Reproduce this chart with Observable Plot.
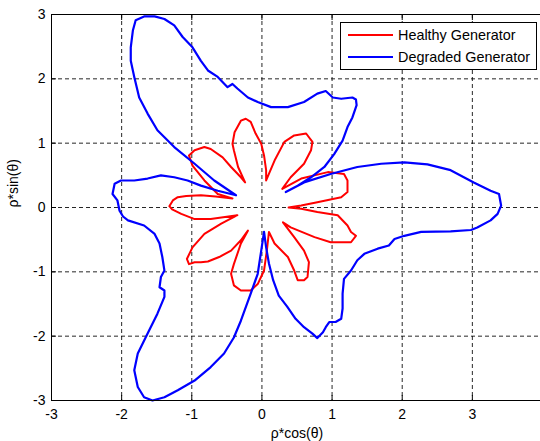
<!DOCTYPE html>
<html>
<head>
<meta charset="utf-8">
<script src="https://cdn.jsdelivr.net/npm/d3@7"></script>
<script src="https://cdn.jsdelivr.net/npm/@observablehq/plot@0.6"></script>
<style>
  body { margin: 0; background: #fff; }
  #wrap { position: relative; width: 540px; height: 441px; overflow: hidden; background: #fff;
          font-family: "Liberation Sans", Arial, Helvetica, sans-serif; }
  #legend { position: absolute; left: 340px; top: 22px; width: 195px; height: 46px;
            border: 1px solid #000; background: #fff; font-size: 14.4px; color: #000; }
  .sw { position: absolute; left: 7px; width: 45px; height: 2px; }
  .lab { position: absolute; left: 57px; height: 16px; line-height: 16px; white-space: nowrap; }
</style>
</head>
<body>
<div id="wrap"></div>
<script>
// ---- data ----
const seriesNames = ["Healthy Generator", "Degraded Generator"];
const seriesColors = ["#ff0000", "#0000ff"];
const xTicks = [-3, -2, -1, 0, 1, 2, 3, 4];
const xTickLabels = ["-3", "-2", "-1", "0", "1", "2", "3", ""];
const yTicks = [-3, -2, -1, 0, 1, 2, 3];
const yTickLabels = ["-3", "-2", "-1", "0", "1", "2", "3"];
const xLabel = "ρ*cos(θ)";
const yLabel = "ρ*sin(θ)";

const healthyX = [
  0.38,0.56,0.79,1.13,1.22,1.22,1.17,0.94,0.56,0.29,
  0.41,0.60,0.70,0.72,0.63,0.46,0.32,0.18,0.06,
  0.06,0.03,-0.01,-0.09,-0.16,-0.23,-0.30,-0.39,-0.42,-0.40,-0.34,-0.24,
  -0.30,-0.44,-0.56,-0.73,-0.82,-0.96,-1.04,-0.99,-0.82,-0.63,-0.42,
  -0.66,-0.87,-1.08,-1.20,-1.27,-1.32,-1.28,-1.15,-0.96,-0.73,-0.35,
  -0.58,-0.82,-0.99,-1.07,-1.04,-0.96,-0.87,-0.77,-0.61,-0.44,-0.30,-0.20,
  -0.30,-0.40,-0.44,-0.40,-0.30,-0.16,-0.06,0.03,0.07,0.10,
  0.18,0.37,0.46,0.51,0.60,0.65,0.67,0.60,0.46,0.30,
  0.41,0.75,0.98,1.27,1.34,1.27,1.22,1.08,0.79,0.56
];
const healthyY = [
  0.00,0.03,0.08,0.16,0.24,0.42,0.52,0.55,0.45,0.29,
  0.47,0.68,0.89,1.02,1.15,1.12,1.02,0.73,0.42,
  0.58,0.81,0.99,1.15,1.33,1.38,1.35,1.17,0.99,0.89,0.63,0.39,
  0.47,0.63,0.78,0.91,0.94,0.89,0.81,0.65,0.42,0.21,0.14,
  0.17,0.19,0.18,0.16,0.11,0.02,-0.03,-0.10,-0.18,-0.18,-0.12,
  -0.25,-0.41,-0.62,-0.80,-0.88,-0.85,-0.85,-0.84,-0.77,-0.67,-0.51,-0.36,
  -0.56,-0.88,-1.03,-1.21,-1.29,-1.29,-1.19,-0.98,-0.67,-0.38,
  -0.56,-0.77,-0.98,-1.13,-1.13,-1.08,-0.85,-0.67,-0.46,-0.23,
  -0.31,-0.46,-0.54,-0.54,-0.44,-0.38,-0.28,-0.12,-0.07,-0.02
];

const degradedX = [
  3.41,3.38,3.26,3.02,2.69,2.36,2.03,1.70,1.36,0.98,
  0.60,0.34,0.51,0.70,0.89,1.03,1.15,1.22,1.29,1.35,
  1.34,1.29,1.13,1.01,0.91,0.79,0.60,0.37,0.13,-0.06,
  -0.20,-0.35,-0.42,-0.49,-0.63,-0.77,-0.87,-0.99,-1.13,-1.25,
  -1.39,-1.53,-1.68,-1.80,-1.84,-1.87,-1.87,-1.82,-1.75,-1.63,
  -1.49,-1.25,-0.96,-0.68,-0.37,-0.63,-0.87,-1.06,-1.25,-1.44,
  -1.63,-1.82,-2.01,-2.10,-2.13,-2.06,-2.03,-1.98,-1.91,-1.68,
  -1.53,-1.46,-1.42,-1.39,-1.44,-1.46,-1.39,-1.39,-1.49,-1.63,
  -1.77,-1.82,-1.77,-1.68,-1.56,-1.39,-1.20,-0.96,-0.73,-0.54,
  -0.40,-0.30,-0.16,-0.06,-0.01,0.03,0.06,0.10,0.16,0.24,
  0.36,0.48,0.60,0.72,0.79,0.87,0.91,0.96,1.05,1.13,
  1.15,1.15,1.17,1.27,1.36,1.46,1.65,1.81,1.89,2.03,
  2.27,2.69,2.98,3.07,3.26,3.36
];
const degradedY = [
  0.03,0.21,0.26,0.39,0.58,0.67,0.70,0.68,0.63,0.52,
  0.39,0.24,0.34,0.47,0.63,0.83,1.04,1.25,1.40,1.59,
  1.68,1.71,1.69,1.71,1.81,1.77,1.64,1.56,1.56,1.64,
  1.71,1.85,1.92,1.87,2.03,2.13,2.28,2.49,2.65,2.83,
  2.93,2.97,2.97,2.91,2.75,2.49,2.28,2.03,1.71,1.46,
  1.20,0.94,0.68,0.42,0.19,0.26,0.34,0.42,0.47,0.50,
  0.45,0.42,0.42,0.37,0.21,0.11,-0.05,-0.14,-0.20,-0.28,
  -0.41,-0.56,-0.77,-0.98,-1.08,-1.24,-1.29,-1.39,-1.65,-1.96,
  -2.27,-2.53,-2.79,-2.95,-3.00,-2.95,-2.84,-2.69,-2.48,-2.27,
  -2.02,-1.76,-1.34,-1.03,-0.67,-0.38,-0.62,-0.87,-1.13,-1.37,
  -1.54,-1.73,-1.86,-1.96,-2.03,-1.94,-1.86,-1.78,-1.78,-1.73,
  -1.57,-1.34,-1.11,-0.98,-0.82,-0.72,-0.64,-0.59,-0.49,-0.44,
  -0.38,-0.37,-0.35,-0.31,-0.20,-0.10
];

// ---- build tables ----
const healthy = healthyX.map((x, i) => ({x, y: healthyY[i]}));
const degraded = degradedX.map((x, i) => ({x, y: degradedY[i]}));
const xFmt = d => xTickLabels[xTicks.indexOf(d)];
const yFmt = d => yTickLabels[yTicks.indexOf(d)];
const FONT = '"Liberation Sans", Arial, Helvetica, sans-serif';

const chart = Plot.plot({
  width: 540,
  height: 441,
  marginLeft: 51,
  marginRight: -2,
  marginTop: 14,
  marginBottom: 41,
  x: {domain: [-3, 4], ticks: xTicks},
  y: {domain: [-3, 3], ticks: yTicks},
  style: {fontFamily: FONT, fontSize: "14px", color: "#000", background: "#fff"},
  marks: [
    Plot.gridX(xTicks, {stroke: "#000", strokeOpacity: 0.85, strokeDasharray: "4,3"}),
    Plot.gridY(yTicks, {stroke: "#000", strokeOpacity: 0.85, strokeDasharray: "4,3"}),
    Plot.line(healthy, {x: "x", y: "y", stroke: seriesColors[0], strokeWidth: 2, curve: "linear-closed", strokeLinejoin: "round"}),
    Plot.line(degraded, {x: "x", y: "y", stroke: seriesColors[1], strokeWidth: 2.2, curve: "linear-closed", strokeLinejoin: "round"}),
    Plot.frame({stroke: "#000"}),
    Plot.axisX(xTicks, {anchor: "bottom", tickSize: -5, tickPadding: 14, label: null, tickFormat: xFmt, fontSize: 14}),
    Plot.axisX(xTicks, {anchor: "top", tickSize: -5, label: null, tickFormat: () => ""}),
    Plot.axisY(yTicks, {anchor: "left", tickSize: -5, tickPadding: 11, label: null, tickFormat: yFmt, fontSize: 14}),
    Plot.text([xLabel], {text: d => d, frameAnchor: "bottom", dy: 33, lineAnchor: "middle", fontSize: 14}),
    Plot.text([yLabel], {text: d => d, frameAnchor: "left", dx: -38, rotate: -90, lineAnchor: "middle", fontSize: 14})
  ]
});

const wrap = document.getElementById("wrap");
wrap.appendChild(chart);

// legend (inside the axes, top-right, MATLAB style)
const legend = document.createElement("div");
legend.id = "legend";
const rowCenters = [11.5, 33.5];
seriesNames.forEach((name, i) => {
  const sw = document.createElement("div");
  sw.className = "sw";
  sw.style.top = (rowCenters[i] - 1) + "px";
  sw.style.background = seriesColors[i];
  const lab = document.createElement("div");
  lab.className = "lab";
  lab.style.top = (rowCenters[i] - 8) + "px";
  lab.textContent = name;
  legend.appendChild(sw);
  legend.appendChild(lab);
});
wrap.appendChild(legend);
</script>
</body>
</html>
